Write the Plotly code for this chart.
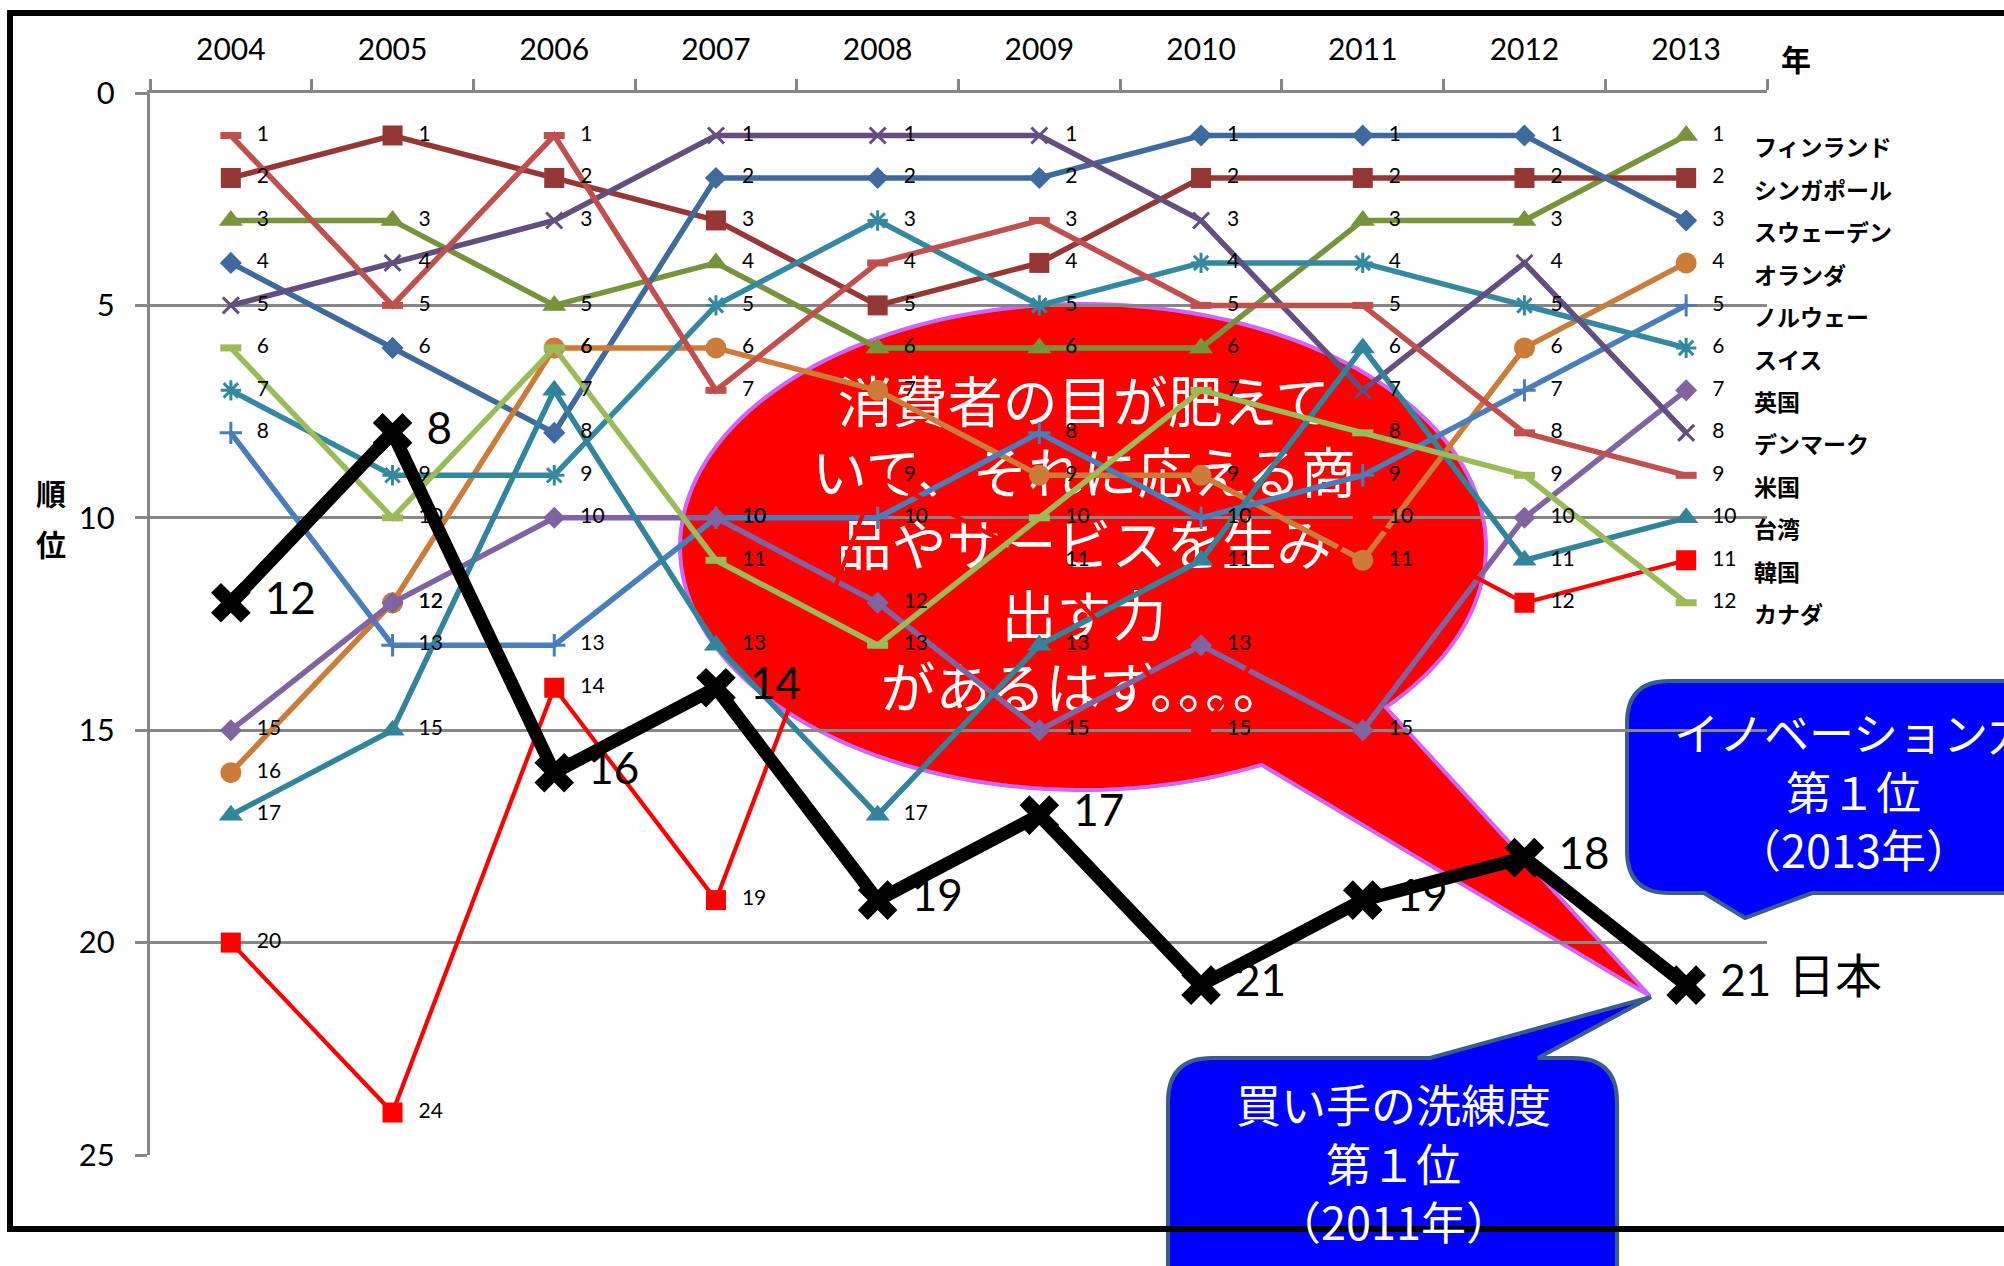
import math
import plotly.graph_objects as go

# ---------------------------------------------------------------- data
YEARS = ["2004", "2005", "2006", "2007", "2008", "2009", "2010", "2011", "2012", "2013"]
Y_TICKS = [0, 5, 10, 15, 20, 25]

COUNTRIES = ["フィンランド", "シンガポール", "スウェーデン", "オランダ", "ノルウェー", "スイス",
             "英国", "デンマーク", "米国", "台湾", "韓国", "カナダ"]

FINLAND = [3, 3, 5, 4, 6, 6, 6, 3, 3, 1]
SINGAPORE = [2, 1, 2, 3, 5, 4, 2, 2, 2, 2]
SWEDEN = [4, 6, 8, 2, 2, 2, 1, 1, 1, 3]
NETHERLANDS = [16, 12, 6, 6, 7, 9, 9, 11, 6, 4]
NORWAY = [8, 13, 13, 10, 10, 8, 10, 9, 7, 5]
SWITZERLAND = [7, 9, 9, 5, 3, 5, 4, 4, 5, 6]
UK = [15, 12, 10, 10, 12, 15, 13, 15, 10, 7]
DENMARK = [5, 4, 3, 1, 1, 1, 3, 7, 4, 8]
USA = [1, 5, 1, 7, 4, 3, 5, 5, 8, 9]
TAIWAN = [17, 15, 7, 13, 17, 13, 11, 6, 11, 10]
KOREA = [20, 24, 14, 19, 9, 11, 15, 10, 12, 11]
CANADA = [6, 10, 6, 11, 13, 10, 7, 8, 9, 12]

JAPAN_NAME = "日本"
JAPAN = [12, 8, 16, 14, 19, 17, 21, 19, 18, 21]

COUNTRY_VALUES = [FINLAND, SINGAPORE, SWEDEN, NETHERLANDS, NORWAY, SWITZERLAND,
                  UK, DENMARK, USA, TAIWAN, KOREA, CANADA]

# ---------------------------------------------------------------- styles
# (colour, marker symbol, marker size, line width, open-symbol stroke width)
STYLES = [
    ("#77933C", "triangle-up", 21, 5.5, 0),
    ("#953735", "square", 20, 5.5, 0),
    ("#3E6A9E", "diamond", 17, 5.5, 0),
    ("#CD7B38", "circle", 21, 5.5, 0),
    ("#4A7EBB", "cross-thin-open", 16, 5.5, 3),
    ("#34889F", "asterisk-open", 17, 5.5, 3),
    ("#8064A2", "diamond", 17, 5.5, 0),
    ("#644E80", "x-thin-open", 16, 5.5, 3),
    ("#C0504D", "line-ew-open", 15, 5.5, 7),
    ("#31849B", "triangle-up", 21, 5.5, 0),
    ("#FF0000", "square", 20, 4.2, 0),
    ("#9BBB59", "line-ew-open", 15, 5.5, 7),
]

GRID = "#868686"
NUM_FONT = "Lato, 'Noto Sans', sans-serif"
JP_FONT = "'Noto Sans CJK JP', 'Noto Sans', sans-serif"

# ---------------------------------------------------------------- geometry
W, H = 2004, 1266
PL, PR, PT, PB = 150, 1767, 93, 1155          # plot area in pixels
XMIN, XMAX = -0.5, len(YEARS) - 0.5
YMAX = 25
UNIT_X = (PR - PL) / (XMAX - XMIN)            # pixels per category


def fx(px):
    return (px - PL) / (PR - PL)


def fy(py):
    return (PB - py) / (PB - PT)


def dx(px):
    return XMIN + (px - PL) / UNIT_X


def dy(py):
    return (py - PT) / (PB - PT) * YMAX


def path_from(points, closed=True):
    s = "M {:.5f} {:.5f} ".format(fx(points[0][0]), fy(points[0][1]))
    for x, y in points[1:]:
        s += "L {:.5f} {:.5f} ".format(fx(x), fy(y))
    return s + ("Z" if closed else "")


def rounded_box(x0, y0, x1, y1, r, tail=None, tail_on="bottom"):
    """Rounded rectangle path (paper units); tail=(base_a_x, apex_x, apex_y, base_b_x)."""
    P = lambda x, y: "{:.5f} {:.5f}".format(fx(x), fy(y))
    s = "M " + P(x0 + r, y0) + " "
    if tail and tail_on == "top":
        a, ax_, ay_, b = tail
        s += "L " + P(a, y0) + " L " + P(ax_, ay_) + " L " + P(b, y0) + " "
    s += "L " + P(x1 - r, y0) + " Q " + P(x1, y0) + " " + P(x1, y0 + r) + " "
    s += "L " + P(x1, y1 - r) + " Q " + P(x1, y1) + " " + P(x1 - r, y1) + " "
    if tail and tail_on == "bottom":
        a, ax_, ay_, b = tail
        s += "L " + P(a, y1) + " L " + P(ax_, ay_) + " L " + P(b, y1) + " "
    s += "L " + P(x0 + r, y1) + " Q " + P(x0, y1) + " " + P(x0, y1 - r) + " "
    s += "L " + P(x0, y0 + r) + " Q " + P(x0, y0) + " " + P(x0 + r, y0) + " Z"
    return s


xs = list(range(len(YEARS)))
LABEL_DX = 26 / UNIT_X
JAPAN_LABEL_DX = 34 / UNIT_X

fig = go.Figure()

# speech-bubble text (sits under the series lines)
fig.add_trace(go.Scatter(
    x=[dx(1084)], y=[dy(551)], mode="text",
    text=["消費者の目が肥えて<br>いて、それに応える商<br>品やサービスを生み<br>出す力<br>があるはず。。。。"],
    textposition="middle center",
    textfont=dict(family=JP_FONT, size=55, color="white"),
    hoverinfo="skip", cliponaxis=False, showlegend=False,
))

# country series
for name, vals, (col, sym, msize, lw, ow) in zip(COUNTRIES, COUNTRY_VALUES, STYLES):
    if ow:
        marker = dict(symbol=sym, size=msize, color=col, line=dict(color=col, width=ow))
    else:
        marker = dict(symbol=sym, size=msize, color=col, line=dict(width=0))
    fig.add_trace(go.Scatter(
        x=xs, y=vals, mode="lines+markers", name=name,
        line=dict(color=col, width=lw), marker=marker, showlegend=False,
    ))

# value labels for the countries
for name, vals in zip(COUNTRIES, COUNTRY_VALUES):
    fig.add_trace(go.Scatter(
        x=[i + LABEL_DX for i in xs], y=vals, mode="text",
        text=[str(v) for v in vals], textposition="middle right",
        textfont=dict(family=NUM_FONT, size=21, color="black"),
        hoverinfo="skip", cliponaxis=False, showlegend=False,
    ))

# Japan on top
fig.add_trace(go.Scatter(
    x=xs, y=JAPAN, mode="lines+markers", name=JAPAN_NAME,
    line=dict(color="black", width=13),
    marker=dict(symbol="x", size=35, color="black", line=dict(width=0)),
    showlegend=False,
))
fig.add_trace(go.Scatter(
    x=[i + JAPAN_LABEL_DX for i in xs], y=JAPAN, mode="text",
    text=[str(v) for v in JAPAN], textposition="middle right",
    textfont=dict(family=NUM_FONT, size=44, color="black"),
    hoverinfo="skip", cliponaxis=False, showlegend=False,
))

# ---------------------------------------------------------------- shapes
shapes = []

# red oval callout with a tail
cx, cy, rx, ry = 1083, 547, 403, 243
a0, a1 = math.radians(41.3), math.radians(63.7 - 360)
n = 160
pts = [(cx + rx * math.cos(a0 + (a1 - a0) * k / n), cy + ry * math.sin(a0 + (a1 - a0) * k / n))
       for k in range(n + 1)]
pts.append((1650, 996))
shapes.append(dict(type="path", xref="paper", yref="paper", path=path_from(pts),
                   fillcolor="#FF0000", line=dict(color="#CC66FF", width=4), layer="below"))

# blue callouts
shapes.append(dict(type="path", xref="paper", yref="paper",
                   path=rounded_box(1627, 681, 2090, 893, 42, tail=(1812, 1745, 918, 1704), tail_on="bottom"),
                   fillcolor="#0000FF", line=dict(color="#3A5E8C", width=4), layer="below"))
shapes.append(dict(type="path", xref="paper", yref="paper",
                   path=rounded_box(1168, 1058, 1617, 1320, 44, tail=(1430, 1651, 997, 1538), tail_on="top"),
                   fillcolor="#0000FF", line=dict(color="#3A5E8C", width=4), layer="below"))

# outer frame
shapes.append(dict(type="rect", xref="paper", yref="paper",
                   x0=fx(10), x1=fx(2060), y0=fy(13), y1=fy(1229),
                   line=dict(color="black", width=6), fillcolor="rgba(0,0,0,0)", layer="below"))

# ---------------------------------------------------------------- annotations
ann = []
NAME_DX = 66 / UNIT_X
last = len(YEARS) - 1
for name, vals in zip(COUNTRIES, COUNTRY_VALUES):
    ann.append(dict(x=last + NAME_DX, y=vals[-1] + 0.25, xref="x", yref="y",
                    text="<b>" + name + "</b>", showarrow=False, xanchor="left", yanchor="middle",
                    font=dict(family=JP_FONT, size=23, color="black")))
ann.append(dict(x=fx(1786), y=JAPAN[-1] - 0.3, xref="paper", yref="y",
                text=JAPAN_NAME, showarrow=False, xanchor="left", yanchor="middle",
                font=dict(family=JP_FONT, size=47, color="black")))

ann.append(dict(x=fx(1853), y=fy(790), xref="paper", yref="paper",
                text="イノベーション力<br>第１位<br>（2013年）", showarrow=False,
                xanchor="center", yanchor="middle", align="center",
                font=dict(family=JP_FONT, size=45, color="white")))
ann.append(dict(x=fx(1393), y=fy(1162), xref="paper", yref="paper",
                text="買い手の洗練度<br>第１位<br>（2011年）", showarrow=False,
                xanchor="center", yanchor="middle", align="center",
                font=dict(family=JP_FONT, size=45, color="white")))

# axis titles
for txt, px_, py_ in [("順", 51, 492), ("位", 51, 543), ("年", 1796, 58)]:
    ann.append(dict(x=fx(px_), y=fy(py_), xref="paper", yref="paper", text="<b>" + txt + "</b>",
                    showarrow=False, xanchor="center", yanchor="middle",
                    font=dict(family=JP_FONT, size=30, color="black")))

# ---------------------------------------------------------------- layout
fig.update_layout(
    width=W, height=H,
    margin=dict(l=PL, r=W - PR, t=PT, b=H - PB, pad=0),
    paper_bgcolor="white", plot_bgcolor="rgba(0,0,0,0)",
    showlegend=False,
    shapes=shapes, annotations=ann,
    xaxis=dict(
        range=[XMIN, XMAX], side="top",
        tickmode="array", tickvals=xs, ticktext=YEARS, ticks="",
        tickfont=dict(family=NUM_FONT, size=30, color="black"),
        ticklabelstandoff=18,
        showline=True, linecolor=GRID, linewidth=3,
        showgrid=False, zeroline=False, fixedrange=True,
        minor=dict(tickmode="array", tickvals=[i - 0.5 for i in range(len(YEARS) + 1)],
                   ticks="outside", ticklen=11, tickwidth=2.5, tickcolor=GRID, showgrid=False),
    ),
    yaxis=dict(
        range=[YMAX, 0], tickmode="array", tickvals=Y_TICKS,
        ticks="outside", ticklen=12, tickwidth=2.5, tickcolor=GRID,
        tickfont=dict(family=NUM_FONT, size=31, color="black"),
        ticklabelstandoff=14,
        showline=True, linecolor=GRID, linewidth=3,
        showgrid=True, gridcolor=GRID, gridwidth=2.5, zeroline=False, fixedrange=True,
    ),
)

fig.write_html("out.html")
